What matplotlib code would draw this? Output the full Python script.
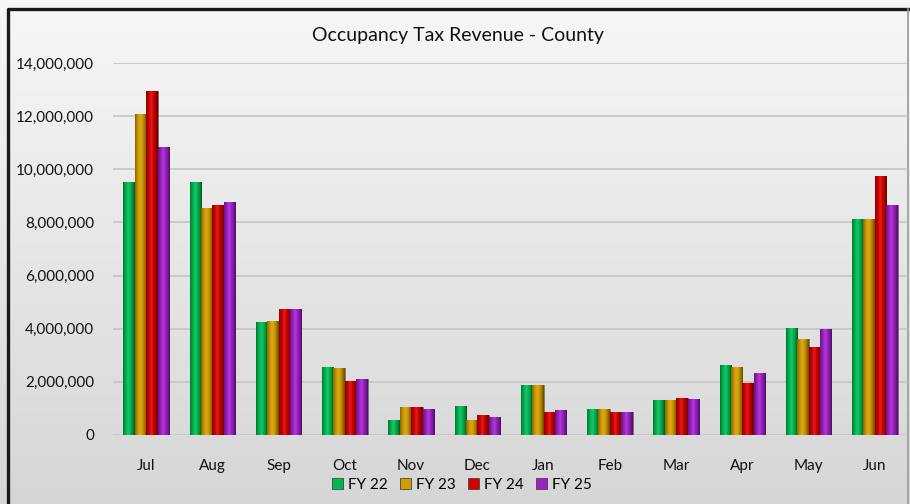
import numpy as np
import matplotlib
matplotlib.use("Agg")
import matplotlib.pyplot as plt
from matplotlib.colors import to_rgb
from matplotlib.ticker import FuncFormatter, MultipleLocator
from matplotlib.lines import Line2D

months = ["Jul", "Aug", "Sep", "Oct", "Nov", "Dec", "Jan", "Feb", "Mar", "Apr", "May", "Jun"]
series_names = ["FY 22", "FY 23", "FY 24", "FY 25"]
fy22 = [9520000, 9510000, 4250000, 2570000, 560000, 1090000, 1880000, 980000, 1330000, 2650000, 4030000, 8130000]
fy23 = [12090000, 8530000, 4290000, 2530000, 1050000, 550000, 1880000, 980000, 1320000, 2560000, 3620000, 8130000]
fy24 = [12930000, 8670000, 4740000, 2030000, 1050000, 750000, 880000, 870000, 1410000, 1940000, 3330000, 9750000]
fy25 = [10840000, 8770000, 4740000, 2120000, 990000, 690000, 930000, 870000, 1370000, 2320000, 4000000, 8650000]
colors = ["#00b850", "#d09c00", "#d40000", "#a020c8"]

plt.rcParams['font.family'] = ['Lato', 'DejaVu Sans']

fig = plt.figure(figsize=(9.1, 5.04), dpi=100)

# background gradient + frame
bg = fig.add_axes([0, 0, 1, 1], zorder=-10)
grad = np.linspace(0, 1, 256).reshape(-1, 1)
top = np.array(to_rgb("#f7f7f7"))
bot = np.array(to_rgb("#d6d6d6"))
img = top[None, None, :] * (1 - grad[:, :, None]) + bot[None, None, :] * grad[:, :, None]
bg.imshow(img, aspect='auto', extent=[0, 1, 0, 1], origin='upper')
bg.set_xlim(0, 1); bg.set_ylim(0, 1)
bg.axis('off')
bg.add_line(Line2D([8/910, 8/910, 909/910], [0, 1 - 9/504, 1 - 9/504], color='#1a1a1a',
                   linewidth=2.4, transform=bg.transAxes))
bg.add_line(Line2D([908/910, 908/910], [0, 1 - 9/504], color='#9a9a9a',
                   linewidth=1.2, transform=bg.transAxes))

ax = fig.add_axes([113/910, 1 - 435/504, 795/910, 372/504])
ax.patch.set_alpha(0)

data = [fy22, fy23, fy24, fy25]
x = np.arange(len(months))
w = 0.172
offs = (np.arange(4) - 1.5) * w

def shade(c):
    c = np.array(to_rgb(c))
    t = np.linspace(0, 1, 64)
    prof = 1.08 - 1.6 * np.abs(t - 0.45) ** 1.6
    prof = np.clip(prof, 0.45, 1.1)
    rows = []
    for p in prof:
        if p > 1:
            rows.append(c + (1 - c) * (p - 1) * 1.5)
        else:
            rows.append(c * p)
    return np.clip(np.array(rows), 0, 1)[None, :, :]

for i, (vals, col) in enumerate(zip(data, colors)):
    bars = ax.bar(x + offs[i], vals, width=w, color=col, edgecolor='#666666',
                  linewidth=0.5, label=series_names[i], zorder=3)
    g = shade(col)
    for b in bars:
        im = ax.imshow(g, aspect='auto', extent=[b.get_x(), b.get_x() + b.get_width(), 0, b.get_height()],
                       zorder=3.5, interpolation='bilinear')
        im.set_clip_path(b)

ax.set_xlim(-0.5, len(months) - 0.5)
ax.set_ylim(0, 14000000)
ax.yaxis.set_major_locator(MultipleLocator(2000000))
ax.yaxis.set_major_formatter(FuncFormatter(lambda v, p: f"{int(v):,}"))
ax.set_xticks(x)
ax.set_xticklabels(months)
ax.grid(axis='y', color='#c4c4c4', linewidth=1.2, zorder=0)
for s in ax.spines.values():
    s.set_visible(False)
ax.tick_params(axis='both', length=0, labelsize=11, colors='#111111')
ax.tick_params(axis='y', pad=13.5)
ax.tick_params(axis='x', pad=17.5)

fig.text(458/910, 1 - 36/504, "Occupancy Tax Revenue - County", ha='center', va='center',
         fontsize=14, color='#111111')

handles = [plt.Rectangle((0, 0), 1, 1, facecolor=c, edgecolor='#444444', linewidth=0.6) for c in colors]
fig.legend(handles, series_names, loc='center', bbox_to_anchor=(462/910, 1 - 485/504), ncol=4,
           frameon=False, fontsize=11, handlelength=0.7, handleheight=0.7, handletextpad=0.35,
           columnspacing=0.8)

fig.savefig("out.png", dpi=100)
